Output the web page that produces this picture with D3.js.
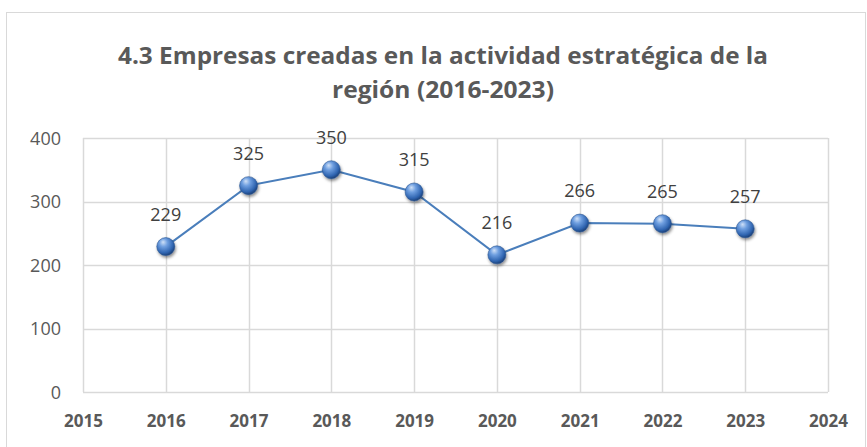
<!DOCTYPE html>
<html>
<head>
<meta charset="utf-8">
<script src="https://cdn.jsdelivr.net/npm/d3@7"></script>
<style>
  body { margin: 0; background: #fff; }
  text { font-family: "Open Sans", "Liberation Sans", sans-serif; }
</style>
</head>
<body>
<svg id="chart" width="867" height="447"></svg>
<script>
// DATA
var years = [2016, 2017, 2018, 2019, 2020, 2021, 2022, 2023];
var empresas = [229, 325, 350, 315, 216, 266, 265, 257];
var x_ticks = [2015, 2016, 2017, 2018, 2019, 2020, 2021, 2022, 2023, 2024];
var y_ticks = [0, 100, 200, 300, 400];
var title_lines = ["4.3 Empresas creadas en la actividad estratégica de la", "región (2016-2023)"];

// LAYOUT
var svg = d3.select('#chart');
var margin = {left: 83, right: 39, top: 138, bottom: 55};
var W = 867, H = 447;

var x = d3.scaleLinear().domain([2015, 2024]).range([margin.left, W - margin.right]);
var y = d3.scaleLinear().domain([0, 400]).range([H - margin.bottom, margin.top]);

// chart border
svg.append('rect')
  .attr('x', 6.5).attr('y', 12.5)
  .attr('width', W - 8).attr('height', H - 10)
  .attr('fill', 'white')
  .attr('stroke', '#d9d9d9')
  .attr('stroke-width', 1);

// title
svg.selectAll('.title')
  .data(title_lines)
  .enter().append('text')
    .attr('class', 'title')
    .attr('x', 443)
    .attr('y', function(d, i){ return 64 + i * 34; })
    .attr('text-anchor', 'middle')
    .attr('fill', '#595959')
    .style('font-size', '24px')
    .style('font-weight', 'bold')
    .attr('textLength', function(d, i){ return i === 0 ? 650 : 222; })
    .attr('lengthAdjust', 'spacingAndGlyphs')
    .text(function(d){ return d; });

// gridlines
var grid = svg.append('g');
grid.selectAll('.hgrid')
  .data(y_ticks)
  .enter().append('line')
    .attr('x1', x(2015)).attr('x2', x(2024))
    .attr('y1', function(d){ return Math.round(y(d)) + 0.5; })
    .attr('y2', function(d){ return Math.round(y(d)) + 0.5; })
    .attr('stroke', '#d9d9d9')
    .attr('stroke-width', 1.5);
grid.selectAll('.vgrid')
  .data(x_ticks)
  .enter().append('line')
    .attr('x1', function(d){ return Math.round(x(d)) + 0.5; })
    .attr('x2', function(d){ return Math.round(x(d)) + 0.5; })
    .attr('y1', y(0)).attr('y2', y(400))
    .attr('stroke', '#d9d9d9')
    .attr('stroke-width', 1.5);

// axes (labels only)
var yAxis = svg.append('g')
  .attr('transform', 'translate(' + (margin.left - 22) + ',0)')
  .call(d3.axisLeft(y).tickValues(y_ticks).tickSize(0).tickPadding(0));
yAxis.select('.domain').remove();
yAxis.selectAll('text')
  .attr('fill', '#595959')
  .attr('dy', '0.36em')
  .style('font-size', '18px')
  .style('font-family', '"Open Sans", sans-serif');

var xAxis = svg.append('g')
  .attr('transform', 'translate(0,' + (H - margin.bottom) + ')')
  .call(d3.axisBottom(x).tickValues(x_ticks).tickFormat(d3.format('d')).tickSize(0).tickPadding(23));
xAxis.select('.domain').remove();
xAxis.selectAll('text')
  .attr('fill', '#595959')
  .style('font-size', '17px')
  .style('font-weight', 'bold')
  .style('font-family', '"Open Sans", sans-serif');

// sphere gradient
var defs = svg.append('defs');
var grad = defs.append('radialGradient')
  .attr('id', 'sphere')
  .attr('cx', '40%').attr('cy', '35%').attr('r', '65%')
  .attr('fx', '35%').attr('fy', '25%');
grad.append('stop').attr('offset', '0%').attr('stop-color', '#cfe0f7');
grad.append('stop').attr('offset', '35%').attr('stop-color', '#6f9fe0');
grad.append('stop').attr('offset', '80%').attr('stop-color', '#2f64b0');
grad.append('stop').attr('offset', '100%').attr('stop-color', '#1d427a');

var shadow = defs.append('filter').attr('id', 'shadow')
  .attr('x', '-50%').attr('y', '-50%').attr('width', '200%').attr('height', '200%');
shadow.append('feDropShadow')
  .attr('dx', 1).attr('dy', 2).attr('stdDeviation', 1.5)
  .attr('flood-color', '#000').attr('flood-opacity', 0.45);

var pts = years.map(function(d, i){ return {year: d, value: empresas[i]}; });

// line
var line = d3.line()
  .x(function(d){ return x(d.year); })
  .y(function(d){ return y(d.value); });

svg.append('path')
  .datum(pts)
  .attr('d', line)
  .attr('fill', 'none')
  .attr('stroke', '#4a7ebb')
  .attr('stroke-width', 2);

// markers
svg.selectAll('.marker')
  .data(pts)
  .enter().append('circle')
    .attr('class', 'marker')
    .attr('cx', function(d){ return x(d.year); })
    .attr('cy', function(d){ return y(d.value); })
    .attr('r', 9)
    .attr('fill', 'url(#sphere)')
    .attr('stroke', '#2a5592')
    .attr('stroke-width', 0.6)
    .attr('filter', 'url(#shadow)');

// data labels
svg.selectAll('.label')
  .data(pts)
  .enter().append('text')
    .attr('class', 'label')
    .attr('x', function(d){ return x(d.year); })
    .attr('y', function(d){ return y(d.value) - 26; })
    .attr('text-anchor', 'middle')
    .attr('fill', '#404040')
    .style('font-size', '18px')
    .text(function(d){ return d.value; });
</script>
</body>
</html>
